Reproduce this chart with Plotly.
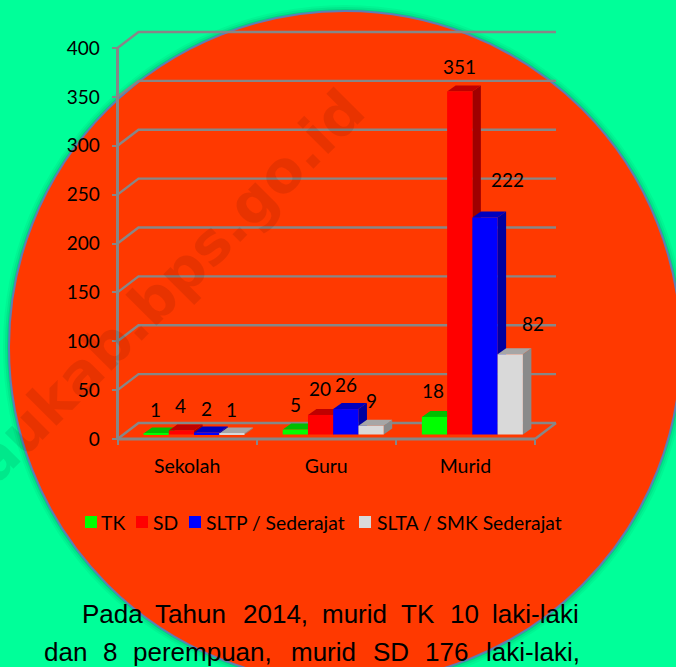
import plotly.graph_objects as go

# ---------- data ----------
categories = ["Sekolah", "Guru", "Murid"]
series_names = ["TK", "SD", "SLTP / Sederajat", "SLTA / SMK Sederajat"]
values_tk = [1, 5, 18]
values_sd = [4, 20, 351]
values_sltp = [2, 26, 222]
values_slta = [1, 9, 82]
y_ticks = [0, 50, 100, 150, 200, 250, 300, 350, 400]
line_1_words = ["Pada", "Tahun", "2014,", "murid", "TK", "10", "laki-laki"]
line_2_words = ["dan", "8", "perempuan,", "murid", "SD", "176", "laki-laki,"]

# ---------- styles / layout ----------
W, H = 676, 667
LEFT, RIGHT, BOTTOM, TOP = 117.5, 535.0, 439.0, 48.0
PX_X = (RIGHT - LEFT) / 3
PX_Y = (BOTTOM - TOP) / 400
x_range = [-LEFT / PX_X, (W - LEFT) / PX_X]
y_range = [-(H - BOTTOM) / PX_Y, BOTTOM / PX_Y]
dx_wall, dy_wall = 21 / PX_X, 16 / PX_Y
dx_bar, dy_bar = 8.5 / PX_X, 6 / PX_Y
base_y = 4.6
bar_w = 25.25 / PX_X
group_shift = 0.05
GRAY = "#878787"
BG = "#00FF99"
DISC = "#FF3900"
FONT = "Lato"
FS = 19
front = ["#00FF00", "#FF0000", "#0000FF", "#D9D9D9"]
top_c = ["#00BF00", "#BF0000", "#0000BF", "#A6A6A6"]
side_c = ["#00A000", "#A00000", "#0000A0", "#8A8A8A"]
all_values = [values_tk, values_sd, values_sltp, values_slta]

fig = go.Figure()

# walls and floor of the 3D frame, derived from the axis values
wx, wy = [], []
for t in y_ticks:
    wx += [0, dx_wall, 3 + dx_wall, None]
    wy += [t, t + dy_wall, t + dy_wall, None]
wx += [3, 3 + dx_wall, None]
wy += [0, dy_wall, None]
fig.add_trace(go.Scatter(x=wx, y=wy, mode="lines", line=dict(color=GRAY, width=2.4),
                         showlegend=False, hoverinfo="skip"))
# the two front axis lines
fig.add_trace(go.Scatter(x=[0, 3, None, 0, 0], y=[0, 0, None, 0, y_ticks[-1]], mode="lines",
                         line=dict(color=GRAY, width=3), showlegend=False, hoverinfo="skip"))


def left_edge(cat_i, s):
    return cat_i + 0.5 + group_shift + (s - 2) * bar_w


# side and top faces
for s, vals in enumerate(all_values):
    for i, v in enumerate(vals):
        l = left_edge(i, s)
        r = l + bar_w
        y0, y1 = base_y, base_y + v
        fig.add_trace(go.Scatter(
            x=[r, r + dx_bar, r + dx_bar, r, r],
            y=[y0, y0 + dy_bar, y1 + dy_bar, y1, y0],
            mode="lines", fill="toself", fillcolor=side_c[s], line=dict(width=0),
            showlegend=False, hoverinfo="skip"))
        fig.add_trace(go.Scatter(
            x=[l, r, r + dx_bar, l + dx_bar, l],
            y=[y1, y1, y1 + dy_bar, y1 + dy_bar, y1],
            mode="lines", fill="toself", fillcolor=top_c[s], line=dict(width=0),
            showlegend=False, hoverinfo="skip"))

# front faces, on an overlay so that they lie above every side face
for s, vals in enumerate(all_values):
    fig.add_trace(go.Bar(
        x=[left_edge(i, s) + bar_w / 2 for i in range(3)],
        y=vals, base=[base_y] * 3, width=bar_w, name=series_names[s],
        marker=dict(color=front[s], line=dict(width=0)),
        xaxis="x2", yaxis="y2", showlegend=False))

shapes = []
cx, cy, rad = 345, 347, 336


def disc(r, **kw):
    return dict(type="circle", xref="paper", yref="paper", layer="below",
                x0=(cx - r) / W, x1=(cx + r) / W,
                y0=1 - (cy + r) / H, y1=1 - (cy - r) / H, **kw)


for extra, alpha in [(6, 0.05), (4, 0.07), (2, 0.1)]:
    shapes.append(disc(rad + extra, fillcolor=f"rgba(0,50,40,{alpha})", line=dict(width=0)))
shapes.append(disc(rad, fillcolor=DISC, line=dict(color="#5F7DB5", width=2)))

annotations = []
# data labels
label_shift = {(0, 0): (-1, 24), (0, 1): (-1, 25), (0, 2): (0, 24), (0, 3): (0, 24),
               (1, 0): (0, 25), (1, 1): (-1, 26), (1, 2): (0, 25), (1, 3): (0, 25),
               (2, 0): (-2, 26), (2, 1): (0, 25), (2, 2): (22, 38), (2, 3): (23, 31)}
for s, vals in enumerate(all_values):
    for i, v in enumerate(vals):
        sx, sy = label_shift[(i, s)]
        annotations.append(dict(
            x=left_edge(i, s) + bar_w / 2, y=base_y + v, xref="x", yref="y",
            text=str(v), showarrow=False, xshift=sx, yshift=sy,
            xanchor="center", yanchor="middle",
            font=dict(family=FONT, size=FS, color="black")))

# legend
swatch_x = [85, 136, 189, 359]
text_x = [99, 151, 204, 375]
for s, name in enumerate(series_names):
    shapes.append(dict(type="rect", xref="paper", yref="paper", layer="above",
                       x0=swatch_x[s] / W, x1=(swatch_x[s] + 12) / W,
                       y0=1 - 528 / H, y1=1 - 516 / H,
                       fillcolor=front[s], line=dict(width=0)))
    annotations.append(dict(x=text_x[s] / W, y=1 - 522 / H, xref="paper", yref="paper",
                            text=name, showarrow=False, xanchor="left", yanchor="middle",
                            font=dict(family=FONT, size=19.3, color="black")))

# paragraph (justified: each word placed on its own)
x1 = [80, 153, 241, 320, 399, 448, 490]
x2 = [42, 101, 131, 289, 371, 423, 484]
for words, xs, py in [(line_1_words, x1, 614), (line_2_words, x2, 652)]:
    for w, xp in zip(words, xs):
        annotations.append(dict(x=xp / W, y=1 - py / H, xref="paper", yref="paper",
                                text=w, showarrow=False, xanchor="left", yanchor="middle",
                                font=dict(family="Liberation Sans", size=26, color="black")))

# watermark
annotations.append(dict(x=153 / W, y=1 - 301 / H, xref="paper", yref="paper",
                        text="naukab.bps.go.id", showarrow=False, textangle=-45,
                        xanchor="center", yanchor="middle",
                        font=dict(family="DejaVu Sans", size=58, color="rgba(0,0,0,0.09)", weight="bold")))

fig.update_layout(
    width=W, height=H, margin=dict(l=0, r=0, t=0, b=0, autoexpand=False),
    paper_bgcolor=BG, plot_bgcolor="rgba(0,0,0,0)",
    showlegend=False, barmode="overlay",
    shapes=shapes, annotations=annotations,
    xaxis=dict(domain=[0, 1], range=x_range, anchor="free", position=1 - BOTTOM / H,
               tickmode="array", tickvals=[0.5, 1.5, 2.5], ticktext=categories, ticks="",
               showgrid=False, zeroline=False, showline=False,
               ticklabelstandoff=13, tickfont=dict(family=FONT, size=19.5, color="black"),
               minor=dict(tickmode="array", tickvals=[0, 1, 2, 3], ticks="outside",
                          ticklen=5, tickcolor=GRAY, tickwidth=2, showgrid=False)),
    yaxis=dict(domain=[0, 1], range=y_range, anchor="free", position=LEFT / W,
               tickmode="array", tickvals=y_ticks, ticks="outside", ticklen=6,
               tickcolor=GRAY, tickwidth=2, showgrid=False, zeroline=False, showline=False,
               ticklabelstandoff=8, tickfont=dict(family=FONT, size=FS, color="black")),
    xaxis2=dict(overlaying="x", range=x_range, visible=False),
    yaxis2=dict(overlaying="y", range=y_range, visible=False),
)

fig.write_html("out.html", config={"displayModeBar": False},
               post_script="document.body.style.margin='0';document.body.style.overflow='hidden';")
